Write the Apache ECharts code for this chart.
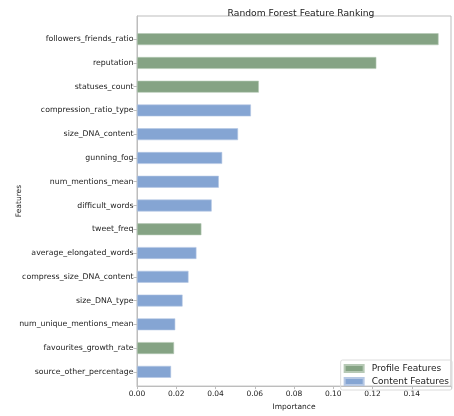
<!DOCTYPE html>
<html><head><meta charset="utf-8">
<script src="https://cdn.jsdelivr.net/npm/echarts@6/dist/echarts.min.js"></script>
<style>html,body{margin:0;padding:0;background:#fff}#c{width:454px;height:416px}</style>
</head><body><div id="c"></div>
<script>
const categories = ["followers_friends_ratio","reputation","statuses_count","compression_ratio_type","size_DNA_content","gunning_fog","num_mentions_mean","difficult_words","tweet_freq","average_elongated_words","compress_size_DNA_content","size_DNA_type","num_unique_mentions_mean","favourites_growth_rate","source_other_percentage"];
const importance = [0.1522,0.1208,0.0615,0.0575,0.0510,0.0430,0.0413,0.0377,0.0325,0.0300,0.0260,0.0230,0.0193,0.0187,0.0172];
const featureType = ["Profile","Profile","Profile","Content","Content","Content","Content","Content","Profile","Content","Content","Content","Content","Profile","Content"];
const xTicks = [0,0.02,0.04,0.06,0.08,0.10,0.12,0.14];
const seriesNames = ["Profile Features","Content Features"];

const green = '#85a384', blue = '#85a5d3';
const FONT = 'DejaVu Sans';
const spine = '#bdbdbd';
const profileData = importance.map((v,i)=>featureType[i]==='Profile'?v:null);
const contentData = importance.map((v,i)=>featureType[i]==='Content'?v:null);

const chart = echarts.init(document.getElementById('c'), null, {renderer:'canvas'});
chart.setOption({
  animation:false,
  backgroundColor:'#fff',
  title:{text:'Random Forest Feature Ranking', left:296, top:4, textAlign:'center',
    textStyle:{fontFamily:FONT, fontSize:9.2, fontWeight:'normal', color:'#222'}},
  legend:{orient:'vertical', right:2, top:360, data:seriesNames,
    itemWidth:19, itemHeight:7, itemGap:4, icon:'rect',
    borderColor:'#dcdcdc', borderWidth:1, borderRadius:2, padding:[4,3,4,3],
    textStyle:{fontFamily:FONT, fontSize:9, color:'#222', padding:[0,0,0,3]}},
  grid:[
    {left:137, top:16, width:320, height:379, show:true, borderColor:spine, borderWidth:1, backgroundColor:'transparent'},
    {left:137, top:27.3, width:320, height:356.4}
  ],
  xAxis:[
    {gridIndex:0, type:'value', min:0, max:0.16, interval:0.02,
      name:'Importance', nameLocation:'middle', nameGap:15,
      nameTextStyle:{fontFamily:FONT, fontSize:7.5, color:'#222'},
      axisLine:{show:true, lineStyle:{color:spine}},
      axisTick:{show:true, length:3, lineStyle:{color:spine}},
      splitLine:{show:false},
      axisLabel:{fontFamily:FONT, fontSize:7.5, color:'#222', margin:4,
        formatter:v=>xTicks.some(t=>Math.abs(t-v)<1e-9)?v.toFixed(2):''}},
    {gridIndex:1, type:'value', min:0, max:0.16, show:false}
  ],
  yAxis:[
    {gridIndex:0, type:'value', min:0, max:1, name:'Features', nameLocation:'middle', nameGap:114,
      nameTextStyle:{fontFamily:FONT, fontSize:7.5, color:'#222'},
      axisLine:{show:true, lineStyle:{color:spine}}, axisTick:{show:false},
      axisLabel:{show:false}, splitLine:{show:false}},
    {gridIndex:1, type:'category', data:categories, inverse:true,
      axisLine:{show:false},
      axisTick:{show:true, alignWithLabel:true, length:3.5, lineStyle:{color:spine}},
      axisLabel:{fontFamily:FONT, fontSize:7.8, color:'#222', margin:3.5},
      splitLine:{show:false}}
  ],
  series:[
    {name:seriesNames[0], type:'bar', xAxisIndex:1, yAxisIndex:1, stack:'s', data:profileData,
      barWidth:'50%', itemStyle:{color:green, borderColor:'#b6c9b5', borderWidth:0.6}},
    {name:seriesNames[1], type:'bar', xAxisIndex:1, yAxisIndex:1, stack:'s', data:contentData,
      barWidth:'50%', itemStyle:{color:blue, borderColor:'#b6c8e4', borderWidth:0.6}}
  ]
});
</script></body></html>
